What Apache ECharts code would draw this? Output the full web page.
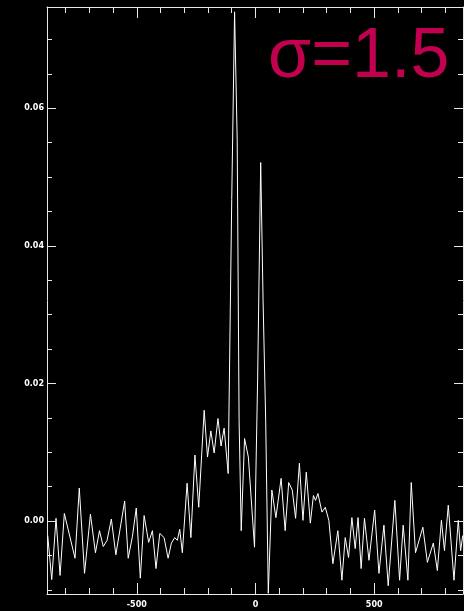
<!DOCTYPE html>
<html>
<head>
<meta charset="utf-8">
<script src="https://cdn.jsdelivr.net/npm/echarts@6/dist/echarts.min.js"></script>
<style>
  html, body { margin: 0; padding: 0; background: #000; }
  #chart { width: 464px; height: 611px; }
</style>
</head>
<body>
<div id="chart"></div>
<script>
  // profile (x offset, amplitude)
  const xs = [
    -875, -858, -840, -823, -805, -760, -742, -720, -695, -674, -657, -641, -625, -607, -588,
    -551, -536, -518, -502, -485, -469, -450, -434, -419, -403, -385, -368, -354, -340, -329,
    -319, -308, -288, -272, -255, -239, -216, -202, -188, -174, -158, -145, -132, -115, -100,
    -88, -77, -69, -60, -46, -30, -4, 9, 22, 32, 43, 54, 69, 86, 108, 125, 140, 155, 169, 185,
    200, 214, 231, 244, 253, 263, 280, 294, 309, 326, 347, 364, 378, 392, 406, 420, 432, 445,
    459, 478, 502, 520, 541, 559, 587, 607, 622, 642, 656, 674, 705, 724, 749, 766, 783, 796,
    812, 836, 854, 864, 873
  ];
  const ys = [
    -0.0021, -0.0085, 0.0004, -0.0079, 0.0011, -0.0054, 0.0048, -0.0076, 0.0010, -0.0046,
    -0.0014, -0.0037, -0.0028, 0.0003, -0.0049, 0.0029, -0.0054, -0.0022, 0.0019, -0.0083,
    0.0008, -0.0031, -0.0014, -0.0069, -0.0018, -0.0024, -0.0054, -0.0032, -0.0024, -0.0028,
    -0.0012, -0.0046, 0.0055, -0.0024, 0.0096, 0.0020, 0.0161, 0.0093, 0.0131, 0.0099, 0.0149,
    0.0109, 0.0135, 0.0069, 0.0467, 0.0740, 0.0554, 0.0147, -0.0014, 0.0120, 0.0093, -0.0038,
    0.0205, 0.0521, 0.0321, 0.0147, -0.0105, 0.0045, 0.0005, 0.0062, -0.0014, 0.0056, 0.0045,
    0.0004, 0.0084, 0.0001, 0.0071, -0.0003, 0.0037, 0.0030, 0.0040, 0.0013, 0.0020, 0.0001,
    -0.0062, -0.0014, -0.0086, -0.0024, -0.0053, 0.0005, -0.0040, 0.0005, -0.0069, 0.0004,
    -0.0057, 0.0016, -0.0076, -0.0006, -0.0094, 0.0030, -0.0086, -0.0006, -0.0086, 0.0056,
    -0.0046, -0.0009, -0.0060, -0.0032, -0.0072, 0.0001, -0.0043, 0.0023, -0.0086, 0.0001,
    -0.0043, -0.0021
  ];

  const xMajor = [-500, 0, 500];
  const xMinor = [-800, -700, -600, -500, -400, -300, -200, -100, 0, 100, 200, 300, 400, 500, 600, 700, 800];
  const yMajor = [0, 0.02, 0.04, 0.06];
  const yMinor = [-0.01, -0.005, 0, 0.005, 0.01, 0.015, 0.02, 0.025, 0.03, 0.035, 0.04, 0.045, 0.05, 0.055, 0.06, 0.065, 0.07];

  const xMin = -878, xMax = 874;
  const yMin = -0.0106, yMax = 0.0747;

  const fg = '#e8e8e8';
  const labelFont = { color: '#ffffff', fontSize: 8, fontFamily: 'DejaVu Sans', fontWeight: 'bold' };

  function xAxisDef(pos, ticks, len, withLabels, withLine) {
    return {
      type: 'value', position: pos, min: xMin, max: xMax,
      splitLine: { show: false },
      axisLine: { show: withLine, onZero: false, lineStyle: { color: fg, width: 1 } },
      axisTick: { show: true, inside: true, length: len, customValues: ticks, lineStyle: { color: fg } },
      axisLabel: withLabels
        ? Object.assign({ show: true, margin: 7, customValues: xMajor, formatter: v => String(v) }, labelFont)
        : { show: false }
    };
  }
  function yAxisDef(pos, ticks, len, withLabels, withLine) {
    return {
      type: 'value', position: pos, min: yMin, max: yMax,
      splitLine: { show: false },
      axisLine: { show: withLine, onZero: false, lineStyle: { color: fg, width: 1 } },
      axisTick: { show: true, inside: true, length: len, customValues: ticks, lineStyle: { color: fg } },
      axisLabel: withLabels
        ? Object.assign({ show: true, margin: 3, customValues: yMajor, formatter: v => v.toFixed(2) }, labelFont)
        : { show: false }
    };
  }

  const chart = echarts.init(document.getElementById('chart'));
  chart.setOption({
    backgroundColor: '#000',
    animation: false,
    grid: { left: 47, right: 1, top: 7, bottom: 17 },
    xAxis: [
      xAxisDef('bottom', xMinor, 6, false, true),
      xAxisDef('bottom', xMajor, 11, true, false),
      xAxisDef('top', xMinor, 6, false, true),
      xAxisDef('top', xMajor, 11, false, false)
    ],
    yAxis: [
      yAxisDef('left', yMinor, 5, false, true),
      yAxisDef('left', yMajor, 9, true, false),
      yAxisDef('right', yMinor, 5, false, true),
      yAxisDef('right', yMajor, 9, false, false)
    ],
    series: [{
      type: 'line',
      data: xs.map((x, i) => [x, ys[i]]),
      showSymbol: false,
      clip: true,
      lineStyle: { color: '#ffffff', width: 1 }
    }],
    graphic: [{
      type: 'text',
      left: 268,
      top: 23,
      style: {
        text: 'σ=1.5',
        fill: '#c1004f',
        font: '70px "Liberation Sans", Arial, sans-serif'
      }
    }]
  });
</script>
</body>
</html>
